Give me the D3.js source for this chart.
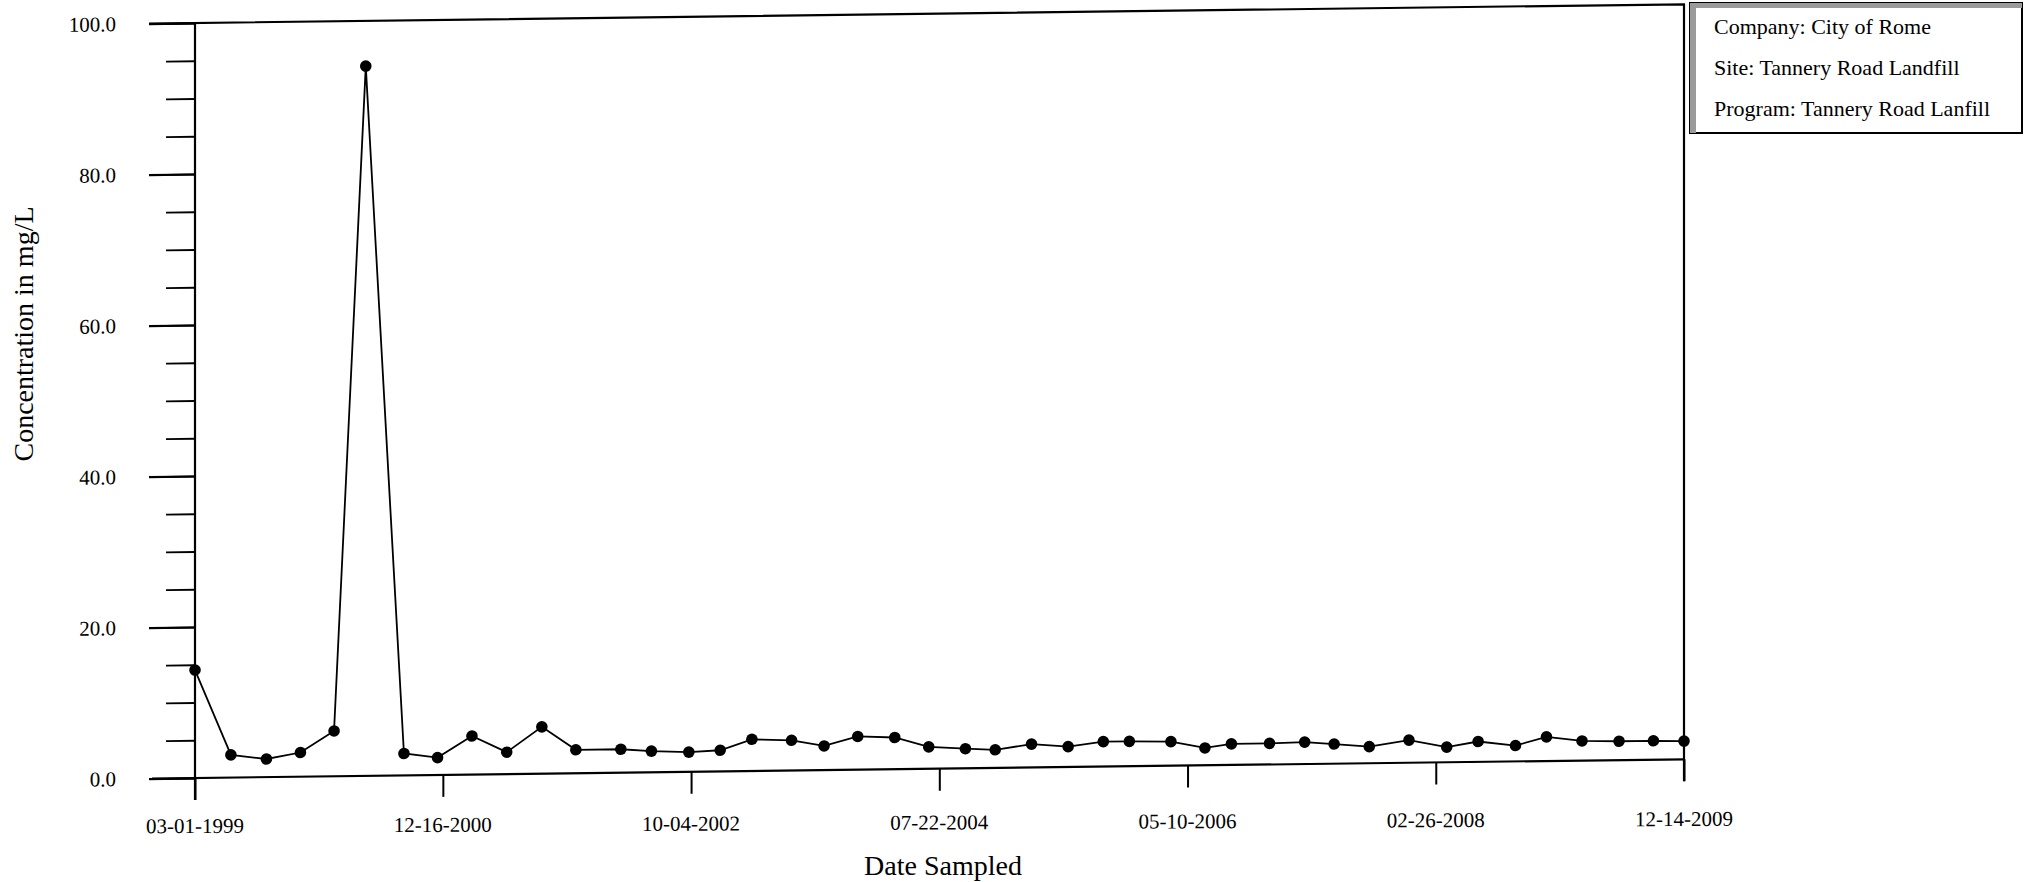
<!DOCTYPE html>
<html><head><meta charset="utf-8">
<script src="https://cdn.jsdelivr.net/npm/d3@7"></script>
<style>body{margin:0;background:#fff}svg{display:block}</style>
</head><body>
<script>
const sampleDates = ["03-01-1999","06-04-1999","09-06-1999","12-05-1999","03-03-2000","05-26-2000","09-04-2000","12-02-2000","03-03-2001","06-03-2001","09-04-2001","12-03-2001","04-01-2002","06-21-2002","09-28-2002","12-20-2002","03-14-2003","06-27-2003","09-21-2003","12-19-2003","03-26-2004","06-24-2004","09-29-2004","12-17-2004","03-23-2005","06-28-2005","09-29-2005","12-07-2005","03-27-2006","06-25-2006","09-03-2006","12-13-2006","03-16-2007","06-02-2007","09-03-2007","12-17-2007","03-26-2008","06-17-2008","09-24-2008","12-15-2008","03-19-2009","06-25-2009","09-24-2009","12-14-2009"];
const concentrations = [14.3,3.0,2.4,3.2,6.0,94.0,2.9,2.3,5.1,2.9,6.2,3.1,3.1,2.8,2.6,2.8,4.2,4.0,3.2,4.4,4.2,2.9,2.6,2.4,3.1,2.7,3.3,3.3,3.2,2.3,2.8,2.8,2.9,2.6,2.2,3.0,2.0,2.7,2.1,3.2,2.6,2.5,2.5,2.4];
const yMajorTicks = [0,20,40,60,80,100];
const yMinorStep = 5;
const xTickLabels = ["03-01-1999","12-16-2000","10-04-2002","07-22-2004","05-10-2006","02-26-2008","12-14-2009"];
const legendLines = ["Company: City of Rome","Site: Tannery Road Landfill","Program: Tannery Road Lanfill"];
const yTitle = "Concentration in mg/L";
const xTitle = "Date Sampled";

const W = 2026, H = 882;
const FONT = "'Liberation Serif','Times New Roman',serif";
const L = 195, R = 1684, T = 23, B = 778;
const parse = d3.timeParse("%m-%d-%Y");
const data = sampleDates.map((d, i) => ({date: parse(d), value: concentrations[i]}));
const xTicks = xTickLabels.map(parse);

const x = d3.scaleTime().domain([xTicks[0], xTicks[xTicks.length - 1]]).range([L, R]);
const y = d3.scaleLinear().domain([0, 100]).range([B, T]);

const svg = d3.select("body").append("svg").attr("width", W).attr("height", H)
  .style("font-family", FONT);

// scanned page is slightly skewed: emulate with a small skewY around the y-axis
const t = Math.tan(-0.72 * Math.PI / 180);
const g = svg.append("g").attr("transform", `matrix(1,${t},0,1,0,${-t * L})`);

// minor y ticks
g.append("g").attr("transform", `translate(${L},0)`)
  .call(d3.axisLeft(y).tickValues(d3.range(0, 101, yMinorStep)).tickSize(29).tickSizeOuter(0).tickFormat(""))
  .call(a => a.select(".domain").remove())
  .call(a => a.selectAll("line").attr("stroke", "#000").attr("stroke-width", 1.8));

// major y ticks with labels
g.append("g").attr("transform", `translate(${L},0)`)
  .call(d3.axisLeft(y).tickValues(yMajorTicks).tickSize(46).tickSizeOuter(0).tickPadding(33).tickFormat(d3.format(".1f")))
  .call(a => a.select(".domain").attr("stroke", "#000").attr("stroke-width", 2.2)
      .attr("d", `M0,${T}V${B + 22}`))
  .call(a => a.selectAll("line").attr("stroke", "#000").attr("stroke-width", 2.2))
  .call(a => a.selectAll("text").attr("fill", "#000").style("font-size", "21px").style("font-family", FONT));

// x axis ticks
g.append("g").attr("transform", `translate(0,${B})`)
  .call(d3.axisBottom(x).tickValues(xTicks).tickSize(22).tickSizeOuter(0).tickFormat(""))
  .call(a => a.select(".domain").attr("stroke", "#000").attr("stroke-width", 2.2).attr("d", `M${L - 43},0H${R}`))
  .call(a => a.selectAll("line").attr("stroke", "#000").attr("stroke-width", 2));

// frame top and right
g.append("path").attr("fill", "none").attr("stroke", "#000").attr("stroke-width", 2.2)
  .attr("d", `M${L - 46},${y(100)}H${R}V${B + 22}`);

// series line
g.append("path").datum(data).attr("fill", "none").attr("stroke", "#000").attr("stroke-width", 1.8)
  .attr("d", d3.line().x(d => x(d.date)).y(d => y(d.value)));

g.append("g").selectAll("circle").data(data).join("circle")
  .attr("cx", d => x(d.date)).attr("cy", d => y(d.value)).attr("r", 5.8).attr("fill", "#000");

// x tick labels (less skewed in the scan)
const t2 = -7 / (R - L);
const lg = svg.append("g").attr("transform", `matrix(1,${t2},0,1,0,${-t2 * L})`);
lg.selectAll("text").data(xTicks).join("text")
  .attr("x", d => x(d)).attr("y", 833).attr("text-anchor", "middle")
  .style("font-size", "21px").attr("fill", "#000")
  .text(d3.timeFormat("%m-%d-%Y"));

// axis titles
svg.append("text").attr("x", 943).attr("y", 875).attr("text-anchor", "middle")
  .style("font-size", "28px").attr("fill", "#000").text(xTitle);
svg.append("text").attr("transform", "translate(33,334) rotate(-90)").attr("text-anchor", "middle")
  .style("font-size", "28px").attr("fill", "#000").text(yTitle);

// info box
const bx = 1690, by = 3, bw = 332, bh = 130;
svg.append("clipPath").attr("id", "boxclip").append("rect")
  .attr("x", bx).attr("y", by).attr("width", bw - 2).attr("height", bh);
svg.append("rect").attr("x", bx).attr("y", by).attr("width", bw).attr("height", bh)
  .attr("fill", "#fff").attr("stroke", "#000").attr("stroke-width", 2);
svg.append("rect").attr("x", bx).attr("y", by).attr("width", bw).attr("height", 5).attr("fill", "#9a9a9a");
svg.append("rect").attr("x", bx).attr("y", by).attr("width", 6).attr("height", bh).attr("fill", "#9a9a9a");
svg.append("g").attr("clip-path", "url(#boxclip)").selectAll("text").data(legendLines).join("text")
  .attr("x", 1714).attr("y", (d, i) => 34 + i * 41)
  .style("font-size", "22px").attr("fill", "#000").text(d => d);
</script>
</body></html>
